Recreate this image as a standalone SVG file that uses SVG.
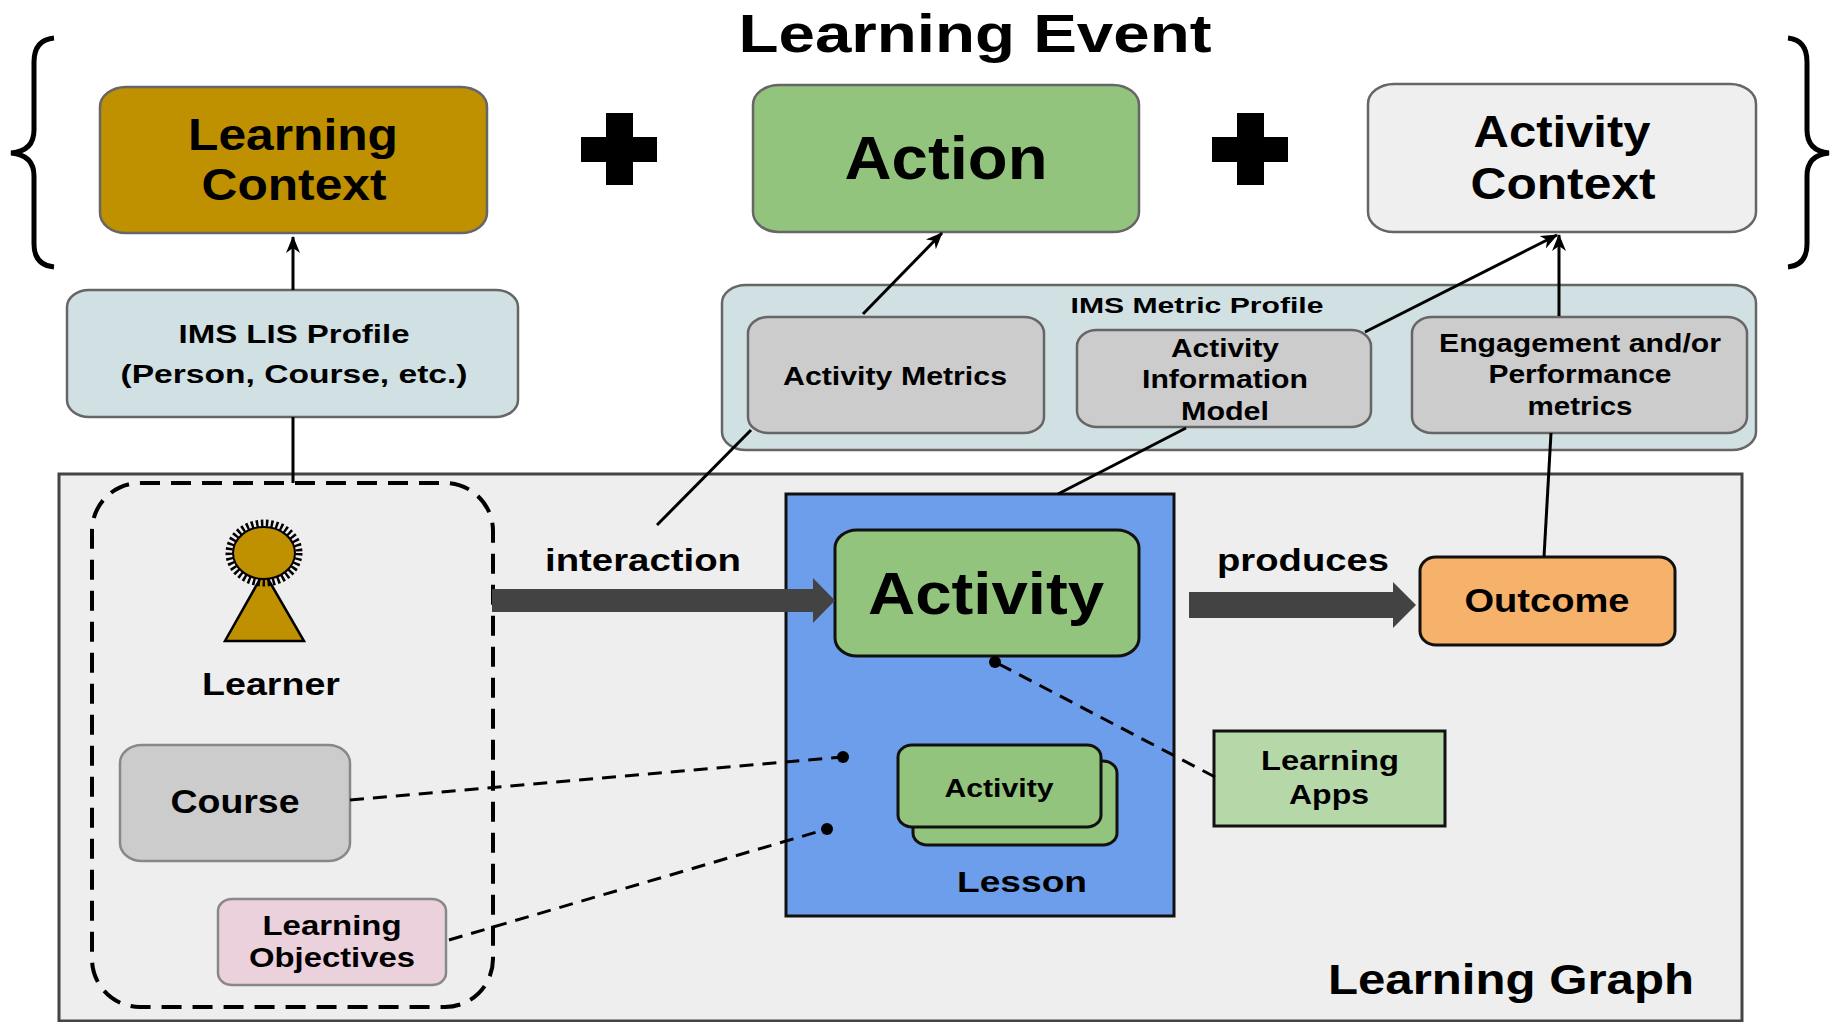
<svg xmlns="http://www.w3.org/2000/svg" width="1831" height="1022" viewBox="0 0 1831 1022">
<defs>
<style>
text{font-family:"Liberation Sans",Arial,sans-serif;font-weight:bold;fill:#000;text-anchor:middle}
.gb{stroke:#666;stroke-width:2.5}
.bb{stroke:#111;stroke-width:3}
.ln{stroke:#000;stroke-width:3;fill:none}
.dl{stroke:#000;stroke-width:3;fill:none;stroke-dasharray:14 9}
.thick{fill:#434343}
</style>
<marker id="arr" markerUnits="userSpaceOnUse" markerWidth="18" markerHeight="16" refX="16" refY="8" orient="auto">
<path d="M0,1 L17,8 L0,15 L5,8 z" fill="#000"/>
</marker>
</defs>
<rect width="1831" height="1022" fill="#fff"/>

<g id="title"><text x="975" y="52" font-size="54" textLength="473" lengthAdjust="spacingAndGlyphs">Learning Event</text></g>
<g id="braces">
<path class="ln" style="stroke-width:5" d="M54,38 Q34,40 34,62 L34,130 Q34,151 11,153 Q34,155 34,176 L34,244 Q34,265 54,267"/>
<path class="ln" style="stroke-width:5" d="M1788,38 Q1807,40 1807,62 L1807,130 Q1807,151 1829,153 Q1807,155 1807,176 L1807,244 Q1807,265 1788,267"/>
</g>
<g id="plus1"><rect x="606" y="113" width="27" height="72" fill="#000"/><rect x="581" y="137" width="76" height="25" fill="#000"/></g>
<g id="plus2"><rect x="1237" y="113" width="27" height="72" fill="#000"/><rect x="1212" y="137" width="76" height="25" fill="#000"/></g>

<g id="learning-context">
<rect x="100" y="87" width="387" height="146" rx="26" ry="20" fill="#bf9000" class="gb"/>
<text x="293" y="150" font-size="44" textLength="210" lengthAdjust="spacingAndGlyphs">Learning</text>
<text x="294" y="200" font-size="44" textLength="185" lengthAdjust="spacingAndGlyphs">Context</text>
</g>
<g id="action">
<rect x="753" y="85" width="386" height="147" rx="26" ry="20" fill="#93c47d" class="gb"/>
<text x="946" y="179" font-size="61" textLength="203" lengthAdjust="spacingAndGlyphs">Action</text>
</g>
<g id="activity-context">
<rect x="1368" y="84" width="388" height="148" rx="26" ry="20" fill="#efefef" class="gb"/>
<text x="1562" y="147" font-size="44" textLength="177" lengthAdjust="spacingAndGlyphs">Activity</text>
<text x="1563" y="199" font-size="44" textLength="185" lengthAdjust="spacingAndGlyphs">Context</text>
</g>
<g id="ims-lis">
<rect x="67" y="290" width="451" height="127" rx="22" ry="17" fill="#d0e0e3" class="gb"/>
<text x="294" y="343" font-size="25" textLength="231" lengthAdjust="spacingAndGlyphs">IMS LIS Profile</text>
<text x="294" y="383" font-size="25" textLength="347" lengthAdjust="spacingAndGlyphs">(Person, Course, etc.)</text>
</g>
<g id="ims-metric">
<rect x="722" y="285" width="1034" height="165" rx="24" ry="18" fill="#d0e0e3" class="gb"/>
<text x="1197" y="313" font-size="22" textLength="253" lengthAdjust="spacingAndGlyphs">IMS Metric Profile</text>
</g>
<g id="activity-metrics">
<rect x="748" y="317" width="296" height="116" rx="20" ry="16" fill="#cccccc" class="gb"/>
<text x="895" y="385" font-size="25" textLength="224" lengthAdjust="spacingAndGlyphs">Activity Metrics</text>
</g>
<g id="activity-info-model">
<rect x="1077" y="330" width="294" height="97" rx="20" ry="16" fill="#cccccc" class="gb"/>
<text x="1225" y="357" font-size="25" textLength="108" lengthAdjust="spacingAndGlyphs">Activity</text>
<text x="1225" y="388" font-size="25" textLength="166" lengthAdjust="spacingAndGlyphs">Information</text>
<text x="1225" y="420" font-size="25" textLength="88" lengthAdjust="spacingAndGlyphs">Model</text>
</g>
<g id="engagement">
<rect x="1412" y="317" width="335" height="116" rx="20" ry="16" fill="#cccccc" class="gb"/>
<text x="1580" y="352" font-size="25" textLength="282" lengthAdjust="spacingAndGlyphs">Engagement and/or</text>
<text x="1580" y="383" font-size="25" textLength="183" lengthAdjust="spacingAndGlyphs">Performance</text>
<text x="1580" y="415" font-size="25" textLength="105" lengthAdjust="spacingAndGlyphs">metrics</text>
</g>

<g id="learning-graph">
<rect x="59" y="474" width="1683" height="547" fill="#eeeeee" stroke="#444" stroke-width="3"/>
<text x="1511" y="994" font-size="43" textLength="366" lengthAdjust="spacingAndGlyphs">Learning Graph</text>
</g>
<g id="learner-group">
<rect x="92" y="483" width="401" height="524" rx="48" ry="48" fill="none" stroke="#000" stroke-width="4" stroke-dasharray="20 11"/>
</g>
<g id="learner">
<polygon points="264,572 225,641 304,641" fill="#bf9000" stroke="#000" stroke-width="2.5"/>
<ellipse cx="264" cy="553" rx="35" ry="30" fill="none" stroke="#000" stroke-width="7" stroke-dasharray="2.5 2.5"/>
<ellipse cx="264" cy="553" rx="31" ry="26" fill="#bf9000" stroke="#000" stroke-width="2"/>
<text x="271" y="695" font-size="31" textLength="138" lengthAdjust="spacingAndGlyphs">Learner</text>
</g>
<g id="course">
<rect x="120" y="745" width="230" height="116" rx="22" ry="18" fill="#cccccc" stroke="#888" stroke-width="2.5"/>
<text x="235" y="813" font-size="34" textLength="129" lengthAdjust="spacingAndGlyphs">Course</text>
</g>
<g id="learning-objectives">
<rect x="218" y="899" width="228" height="86" rx="14" ry="12" fill="#ead1dc" stroke="#888" stroke-width="2.5"/>
<text x="332" y="935" font-size="28" textLength="139" lengthAdjust="spacingAndGlyphs">Learning</text>
<text x="332" y="967" font-size="28" textLength="166" lengthAdjust="spacingAndGlyphs">Objectives</text>
</g>
<g id="lesson">
<rect x="786" y="494" width="388" height="422" fill="#6d9eeb" class="bb"/>
<text x="1022" y="892" font-size="30" textLength="130" lengthAdjust="spacingAndGlyphs">Lesson</text>
</g>
<g id="activity">
<rect x="835" y="530" width="304" height="126" rx="22" ry="18" fill="#93c47d" class="bb"/>
<text x="986" y="614" font-size="60" textLength="236" lengthAdjust="spacingAndGlyphs">Activity</text>
</g>
<g id="activity-stack">
<rect x="913" y="761" width="204" height="84" rx="14" ry="12" fill="#93c47d" class="bb"/>
<rect x="898" y="745" width="203" height="82" rx="14" ry="12" fill="#93c47d" class="bb"/>
<text x="999" y="797" font-size="25" textLength="109" lengthAdjust="spacingAndGlyphs">Activity</text>
</g>
<g id="outcome">
<rect x="1420" y="557" width="255" height="88" rx="16" ry="14" fill="#f6b26b" class="bb"/>
<text x="1547" y="612" font-size="33" textLength="165" lengthAdjust="spacingAndGlyphs">Outcome</text>
</g>
<g id="learning-apps">
<rect x="1214" y="731" width="231" height="95" fill="#b6d7a8" class="bb"/>
<text x="1330" y="770" font-size="28" textLength="138" lengthAdjust="spacingAndGlyphs">Learning</text>
<text x="1329" y="804" font-size="28" textLength="80" lengthAdjust="spacingAndGlyphs">Apps</text>
</g>
<g id="labels">
<text x="643" y="571" font-size="31" textLength="196" lengthAdjust="spacingAndGlyphs">interaction</text>
<text x="1303" y="571" font-size="31" textLength="172" lengthAdjust="spacingAndGlyphs">produces</text>
</g>

<g id="connectors">
<line class="ln" x1="293" y1="290" x2="293" y2="237" marker-end="url(#arr)"/>
<line class="ln" x1="293" y1="417" x2="293" y2="483"/>
<line class="ln" x1="863" y1="314" x2="942" y2="233" marker-end="url(#arr)"/>
<line class="ln" x1="751" y1="430" x2="657" y2="525"/>
<line class="ln" x1="1365" y1="332" x2="1557" y2="235" marker-end="url(#arr)"/>
<line class="ln" x1="1559" y1="316" x2="1559" y2="235" marker-end="url(#arr)"/>
<line class="ln" x1="1186" y1="428" x2="1058" y2="494"/>
<line class="ln" x1="1544" y1="557" x2="1551" y2="433"/>
<polygon class="thick" points="492,589 813,589 813,578 835,600.5 813,623 813,612 492,612"/>
<polygon class="thick" points="1189,592 1393,592 1393,582 1416,605 1393,628 1393,618 1189,618"/>
<line class="dl" x1="350" y1="800" x2="843" y2="757"/>
<circle cx="843" cy="757" r="6" fill="#000"/>
<line class="dl" x1="449" y1="940" x2="827" y2="829"/>
<circle cx="827" cy="829" r="6" fill="#000"/>
<line class="dl" x1="1215" y1="777" x2="995" y2="662"/>
<circle cx="995" cy="662" r="6" fill="#000"/>
</g>
</svg>
